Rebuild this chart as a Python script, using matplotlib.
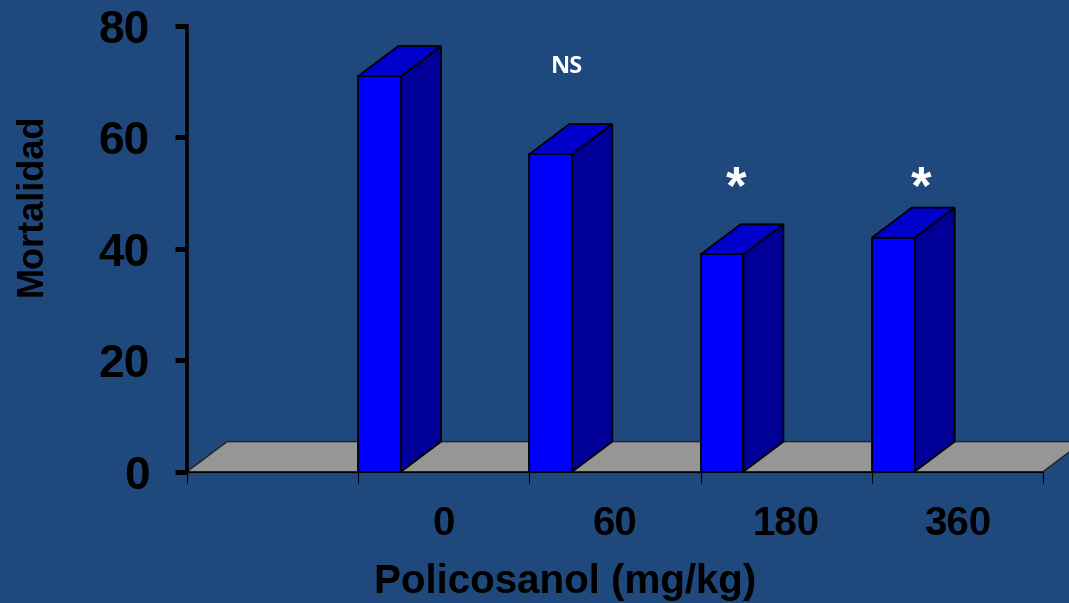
import matplotlib
matplotlib.use("Agg")
import matplotlib.pyplot as plt
from matplotlib.patches import Polygon

# Mortality by policosanol dose
doses = ["0", "60", "180", "360"]
mortalidad = [71, 57, 39, 42]
marcas = ["", "NS", "*", "*"]
y_ticks = [0, 20, 40, 60, 80]

# where each significance mark sits (x in category units, y in axis units)
marca_x = [None, 2.22, 3.21, 4.29]
marca_y = [None, 72.6, 48.0, 48.0]

BG = "#1F497D"
FRONT = "#0000FF"
TOP = "#0000CC"
SIDE = "#000099"
FLOOR = "#969696"

plt.rcParams["font.family"] = ["Liberation Sans", "DejaVu Sans"]

W, H = 1069, 603
fig = plt.figure(figsize=(W / 100, H / 100), dpi=100, facecolor=BG)
ax = fig.add_axes([187 / W, 1 - 471.7 / H, 856 / W, 445.7 / H])
ax.set_facecolor(BG)
ax.set_xlim(0, 5)
ax.set_ylim(0, 80)

# pseudo-3D depth offsets (data units)
DX, DY, BW = 0.234, 5.4, 0.25

floor = Polygon([(0, 0), (5, 0), (5 + DX, DY), (DX, DY)], closed=True,
                fc=FLOOR, ec="#222222", lw=1.0, clip_on=False, zorder=1)
ax.add_patch(floor)

for i, h in enumerate(mortalidad):
    x0 = i + 1
    side = [(x0 + BW, 0), (x0 + BW + DX, DY), (x0 + BW + DX, h + DY), (x0 + BW, h)]
    top = [(x0, h), (x0 + BW, h), (x0 + BW + DX, h + DY), (x0 + DX, h + DY)]
    front = [(x0, 0), (x0 + BW, 0), (x0 + BW, h), (x0, h)]
    for pts, col in ((side, SIDE), (top, TOP), (front, FRONT)):
        ax.add_patch(Polygon(pts, closed=True, fc=col, ec="black", lw=1.3,
                             joinstyle="miter", clip_on=False, zorder=3))

# significance marks above the bars
for m, mx, my in zip(marcas, marca_x, marca_y):
    if m == "NS":
        ax.text(mx, my, m, ha="center", va="center", color="white",
                fontsize=17, fontweight="bold", family=["Open Sans", "DejaVu Sans"])
    elif m == "*":
        ax.text(mx, my, m, ha="center", va="baseline",
                color="white", fontsize=38, fontweight="bold")

for s in ("top", "right"):
    ax.spines[s].set_visible(False)
ax.spines["left"].set_linewidth(2.6)
ax.spines["left"].set_color("black")
ax.spines["bottom"].set_linewidth(0.8)
ax.spines["bottom"].set_color("black")

ax.set_yticks(y_ticks)
ax.set_yticklabels([str(v) for v in y_ticks], fontsize=33, fontweight="bold")
ax.tick_params(axis="y", direction="out", length=9, width=3.6, pad=18, colors="black")

ax.set_xticks(range(6))
ax.set_xticklabels([""] * 6)
ax.tick_params(axis="x", which="major", direction="out", length=8, width=0.8, colors="black")
ax.set_xticks([1.5, 2.5, 3.5, 4.5], minor=True)
ax.set_xticklabels(doses, minor=True, fontsize=29, fontweight="bold")
ax.tick_params(axis="x", which="minor", length=0, pad=24)

ax.set_ylabel("Mortalidad", fontsize=26, fontweight="bold", color="black")
ax.yaxis.set_label_coords(-0.160, 0.60)
ax.set_xlabel("Policosanol (mg/kg)", fontsize=29, fontweight="bold", color="black")
ax.xaxis.set_label_coords(0.4416, -0.205)

fig.savefig("out.png", dpi=100, facecolor=BG)
